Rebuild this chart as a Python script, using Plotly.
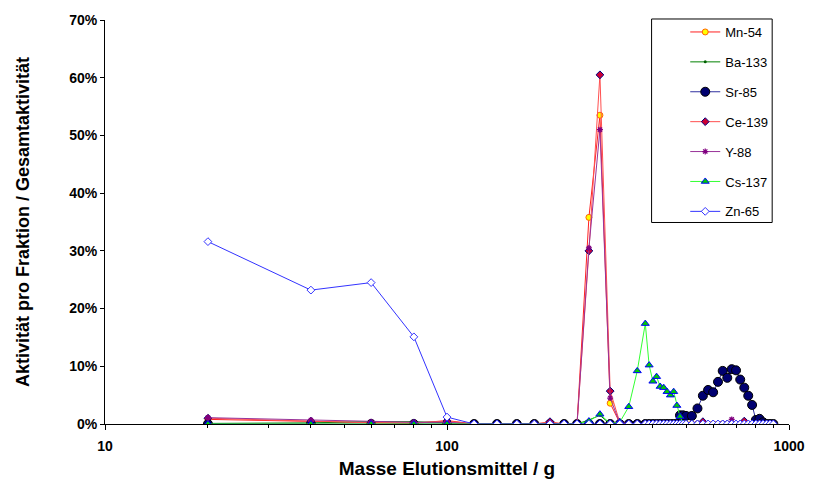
import plotly.graph_objects as go

# Elution mass grid (g)
mass = [20, 40, 60, 80, 100, 120, 140, 160, 180, 200, 220, 240, 260, 280, 300, 320, 340, 360, 380,
        390, 400, 410, 420, 430, 440, 450, 460, 470, 480, 490, 500,
        520, 540, 560, 580, 600, 620, 640, 660, 680, 700, 720, 740, 760, 780, 800, 820, 840, 860, 880, 900]

# Activity per fraction / total activity (%)
mn54 = [0.8, 0.4, 0.2, 0.1, 0.6, 0, 0, 0, 0, 0.2, 0, 0, 35.8, 53.5, 3.6, 0.2, 0, 0, 0,
        0, 0, 0, 0, 0, 0, 0, 0, 0, 0, 0, 0,
        0, 0, 0, 0, 0, 0, 0, 0, 0, 0, 0, 0, 0, 0, 0, 0, 0, 0, 0, 0]
ba133 = [0.1, 0.2, 0.4, 0.4, 0.2, 0, 0, 0, 0, 0, 0, 0, 0.7, 1.5, 0, 0, 0, 0, 0,
         0, 0, 0, 0, 0, 0, 0, 0, 0, 0, 0, 0,
         0, 0, 0, 0, 0, 0, 0, 0, 0, 0, 0, 0, 0, 0, 0, 0, 0, 0, 0, 0]
sr85 = [0, 0, 0, 0, 0, 0, 0, 0, 0, 0, 0, 0, 0, 0, 0, 0, 0, 0, 0,
        0, 0, 0, 0, 0, 0, 0, 0, 0, 1.5, 1.5, 1.4,
        1.4, 2.7, 4.9, 5.9, 5.5, 7.3, 9.2, 8.0, 9.5, 9.3, 7.7, 6.3, 4.9, 3.3, 0.7, 0.9, 0.3, 0, 0, 0]
ce139 = [1.0, 0.5, 0.2, 0.2, 0.5, 0, 0, 0, 0, 0.4, 0, 0, 30.0, 60.5, 5.7, 0.3, 0, 0, 0,
         0, 0, 0, 0, 0, 0, 0, 0, 0, 0, 0, 0,
         0, 0, 0.4, 0, 0, 0, 0, 0, 0, 0, 0, 0.5, 0, 0, 0, 0, 0, 0, 0, 0]
y88 = [1.1, 0.7, 0.4, 0.3, 0.3, 0, 0, 0, 0, 0, 0, 0, 30.5, 51.0, 4.5, 0.2, 0, 0, 0,
       0, 0, 0, 0, 0, 0, 0, 0, 0, 0, 0, 0,
       0, 0, 0, 0, 0, 0, 0, 0, 0.8, 0, 0, 0, 0, 0, 0, 0, 0, 0, 0, 0]
cs137 = [0, 0, 0, 0, 0, 0, 0, 0, 0, 0, 0, 0, 0.5, 1.7, 0.1, 0.3, 3.0, 9.2, 17.4,
         10.2, 7.4, 8.2, 6.5, 6.3, 5.6, 5.0, 5.6, 3.2, 1.3, 0.1, 0,
         0, 0, 0, 0, 0, 0, 0, 0, 0, 0, 0, 0, 0, 0, 0, 0, 0, 0, 0, 0]
zn65 = [31.6, 23.2, 24.5, 15.1, 1.2, 0, 0, 0, 0, 0, 0, 0, 0, 0, 0, 0, 0, 0, 0,
        0, 0, 0, 0, 0, 0, 0, 0, 0, 0, 0, 0,
        0, 0, 0, 0, 0, 0, 0, 0, 0, 0, 0, 0, 0, 0, 0, 0, 0, 0, 0, 0]

series = [
    ("Mn-54", mn54, dict(color="#ff2020", width=1),
     dict(symbol="circle", size=6, color="#ffff00", line=dict(color="#ff6600", width=1))),
    ("Ba-133", ba133, dict(color="#008000", width=1),
     dict(symbol="circle", size=3, color="#006000", line=dict(color="#006000", width=0))),
    ("Sr-85", sr85, dict(color="#3030a0", width=1),
     dict(symbol="circle", size=9, color="#000070", line=dict(color="#000000", width=1))),
    ("Ce-139", ce139, dict(color="#ff5050", width=1),
     dict(symbol="diamond", size=6, color="#cc0033", line=dict(color="#000080", width=1))),
    ("Y-88", y88, dict(color="#993399", width=1),
     dict(symbol="asterisk-open", size=5, color="#800080", line=dict(color="#800080", width=1.2))),
    ("Cs-137", cs137, dict(color="#33ff33", width=1),
     dict(symbol="triangle-up", size=7, color="#00cc00", line=dict(color="#0000ff", width=1))),
    ("Zn-65", zn65, dict(color="#3333ff", width=1),
     dict(symbol="diamond", size=6, color="#ffffff", line=dict(color="#3333ff", width=1))),
]

fig = go.Figure()
for name, vals, ln, mk in series:
    fig.add_trace(go.Scatter(x=mass, y=vals, name=name, mode="lines+markers",
                             line=ln, marker=mk, legendgroup=name))

font_family = "Liberation Sans, Arial, sans-serif"
fig.update_layout(
    width=817, height=488,
    margin=dict(l=105, r=20, t=19, b=64),
    paper_bgcolor="white", plot_bgcolor="white",
    font=dict(family=font_family, color="black", size=13),
    showlegend=True,
    legend=dict(x=0.8483, y=1.0074, xanchor="left", yanchor="top",
                bgcolor="rgba(0,0,0,0)", borderwidth=0, tracegroupgap=10,
                font=dict(size=13, family=font_family), itemwidth=30),
    xaxis=dict(type="log", range=[1, 3], tickvals=[10, 100, 1000], ticktext=["10", "100", "1000"],
               ticks="outside", ticklen=5, tickcolor="black", showline=True, linecolor="black",
               linewidth=1, showgrid=False, zeroline=False, ticklabelstandoff=4,
               tickfont=dict(size=14, family=font_family, weight="bold"),
               minor=dict(ticks="outside", ticklen=3, tickcolor="black", dtick="D1", showgrid=False),
               title=dict(text="<b>Masse Elutionsmittel / g</b>", font=dict(size=19, family=font_family),
                          standoff=8)),
    yaxis=dict(range=[0, 70], dtick=10, ticksuffix="%", ticks="outside", ticklen=4,
               tickcolor="black", showline=True, linecolor="black", linewidth=1,
               showgrid=False, zeroline=False,
               tickfont=dict(size=14, family=font_family, weight="bold"),
               title=dict(text="<b>Aktivität pro Fraktion / Gesamtaktivität</b>",
                          font=dict(size=18, family=font_family), standoff=34)),
    shapes=[dict(type="rect", xref="paper", yref="paper", x0=0.7991, x1=0.9754, y0=0.4988, y1=1.0025,
                 line=dict(color="black", width=1), fillcolor="white", layer="above")],
)

fig.write_html("out.html")
